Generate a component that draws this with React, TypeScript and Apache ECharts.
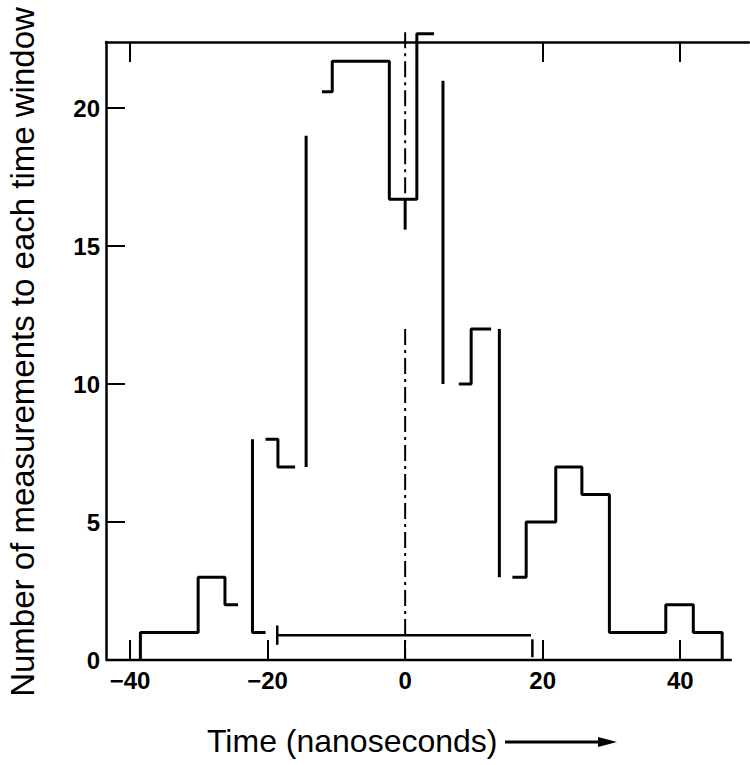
import React, { useEffect, useRef } from "react";
import * as echarts from "echarts";

// Axis ticks / labels
const xTickValues = [-40, -20, 0, 20, 40];
const xTopTickValues = [-40, 20, 40];
const yTickValues = [0, 5, 10, 15, 20];

// Histogram fragments (bin edges in ns, counts per bin) as printed
const leftEdges = [-38.5, -30.1, -26.2, -24.3];
const leftCounts = [1, 3, 2];

const dropEdges = [-22.2, -20.3];
const dropCounts = [1];
const dropFrom = 8;

const stepEdgesA = [-20.3, -18.5, -16.0];
const stepCountsA = [8, 7];

const riseEdges = [-14.4, -14.4];
const riseCounts = [19];
const riseFrom = 7;

const peakEdges = [-12.1, -10.6, -2.3, 1.7, 4.2];
const peakCounts = [20.6, 21.7, 16.7, 22.7];

const fallEdges = [5.5, 5.5];
const fallCounts = [10];
const fallFrom = 21;

const stepEdgesB = [7.8, 9.6, 12.5];
const stepCountsB = [10, 12];

const fall2Edges = [13.7, 13.7];
const fall2Counts = [3];
const fall2From = 12;

const rightEdges = [15.6, 17.6, 21.9, 25.7, 29.7, 37.9, 41.9, 46.1];
const rightCounts = [3, 5, 7, 6, 1, 2, 1];

// Baseline and resolution bar
const baselineSpan = [-43.5, 47.5];
const resolutionSpan = [-18.6, 18.3];
const resolutionLevel = 0.9;
const leftCapRange = [0.55, 1.25];
const rightCapRange = [0.1, 0.75];
const rightCapTime = 18.5;

// Zero-time reference (dash-dot) pieces
const zeroTopRange = [22.75, 16.7];
const zeroSolidRange = [16.7, 15.6];
const zeroLowRange = [12, 0];

function stairs(edges: number[], counts: number[], startFrom?: number, endAt?: number) {
  const pts: number[][] = [];
  if (startFrom !== undefined) pts.push([edges[0], startFrom]);
  for (let i = 0; i < counts.length; i++) pts.push([edges[i], counts[i]]);
  pts.push([edges[edges.length - 1], counts[counts.length - 1]]);
  if (endAt !== undefined) pts.push([edges[edges.length - 1], endAt]);
  return pts;
}

const baseLine = (data: number[][], width: number, extra: any = {}) => ({
  type: "line",
  data,
  showSymbol: false,
  symbol: "none",
  clip: false,
  silent: true,
  lineStyle: { color: "#000", width, ...extra },
});

const FONT = "'Liberation Sans', Arial, sans-serif";

export default function App() {
  const ref = useRef<HTMLDivElement>(null);
  useEffect(() => {
    if (!ref.current) return;
    const chart = echarts.init(ref.current, undefined, { renderer: "svg" });
    const stepSeries = (d: number[][]) => ({ ...baseLine(d, 3), step: "end" });
    const fmt = (v: any) => String(v).replace("-", "\u2212");
    chart.setOption({
      animation: false,
      backgroundColor: "#fff",
      grid: { left: 106, right: 1, top: 42, bottom: 105 },
      xAxis: [
        {
          type: "value",
          position: "bottom",
          min: baselineSpan[0],
          max: 50,
          axisLine: { show: false, onZero: false },
          splitLine: { show: false },
          axisTick: {
            show: true,
            inside: true,
            length: 20,
            customValues: xTickValues,
            lineStyle: { color: "#000", width: 2 },
          },
          axisLabel: {
            customValues: xTickValues,
            formatter: fmt,
            margin: 8,
            color: "#000",
            fontSize: 24,
            fontWeight: "bold",
            fontFamily: FONT,
          },
        },
        {
          type: "value",
          position: "top",
          min: baselineSpan[0],
          max: 50,
          axisLine: { show: true, onZero: false, lineStyle: { color: "#000", width: 2.5 } },
          splitLine: { show: false },
          axisTick: {
            show: true,
            inside: true,
            length: 20,
            customValues: xTopTickValues,
            lineStyle: { color: "#000", width: 2 },
          },
          axisLabel: { show: false },
        },
      ],
      yAxis: {
        type: "value",
        min: 0,
        max: 22.4,
        axisLine: { show: true, onZero: false, lineStyle: { color: "#000", width: 2.5 } },
        splitLine: { show: false },
        axisTick: {
          show: true,
          inside: true,
          length: 19,
          customValues: yTickValues,
          lineStyle: { color: "#000", width: 2 },
        },
        axisLabel: {
          customValues: yTickValues,
          margin: 6,
          color: "#000",
          fontSize: 24,
          fontWeight: "bold",
          fontFamily: FONT,
        },
      },
      series: [
        baseLine([[baselineSpan[0], 0], [baselineSpan[1], 0]], 2.5),
        stepSeries(stairs(leftEdges, leftCounts, 0)),
        stepSeries(stairs(dropEdges, dropCounts, dropFrom)),
        stepSeries(stairs(stepEdgesA, stepCountsA)),
        stepSeries(stairs(riseEdges, riseCounts, riseFrom)),
        stepSeries(stairs(peakEdges, peakCounts)),
        stepSeries(stairs(fallEdges, fallCounts, fallFrom)),
        stepSeries(stairs(stepEdgesB, stepCountsB)),
        stepSeries(stairs(fall2Edges, fall2Counts, fall2From)),
        stepSeries(stairs(rightEdges, rightCounts, undefined, 0)),
        baseLine([[resolutionSpan[0], resolutionLevel], [resolutionSpan[1], resolutionLevel]], 2.5),
        baseLine([[resolutionSpan[0], leftCapRange[0]], [resolutionSpan[0], leftCapRange[1]]], 2.5),
        baseLine([[rightCapTime, rightCapRange[0]], [rightCapTime, rightCapRange[1]]], 2.5),
        baseLine([[0, zeroTopRange[0]], [0, zeroTopRange[1]]], 2, { type: [16, 5, 3, 5] }),
        baseLine([[0, zeroSolidRange[0]], [0, zeroSolidRange[1]]], 3),
        baseLine([[0, zeroLowRange[0]], [0, zeroLowRange[1]]], 2, { type: [16, 5, 3, 5] }),
      ],
      graphic: [
        {
          type: "text",
          x: 22,
          y: 352,
          rotation: Math.PI / 2,
          silent: true,
          style: {
            text: "Number of measurements to each time window",
            fill: "#000",
            fontSize: 33,
            fontFamily: FONT,
            textAlign: "center",
            textVerticalAlign: "middle",
          },
        },
        {
          type: "text",
          x: 207,
          y: 741,
          silent: true,
          style: {
            text: "Time (nanoseconds)",
            fill: "#000",
            fontSize: 32,
            fontFamily: FONT,
            textAlign: "left",
            textVerticalAlign: "middle",
          },
        },
        {
          type: "line",
          silent: true,
          shape: { x1: 505, y1: 742, x2: 604, y2: 742 },
          style: { stroke: "#000", lineWidth: 3 },
        },
        {
          type: "polygon",
          silent: true,
          shape: { points: [[598, 737], [617, 742], [598, 747]] },
          style: { fill: "#000" },
        },
      ],
    });
    return () => chart.dispose();
  }, []);
  return (
    <div
      ref={ref}
      style={{ position: "absolute", left: 0, top: 0, width: 750, height: 765 }}
    />
  );
}
